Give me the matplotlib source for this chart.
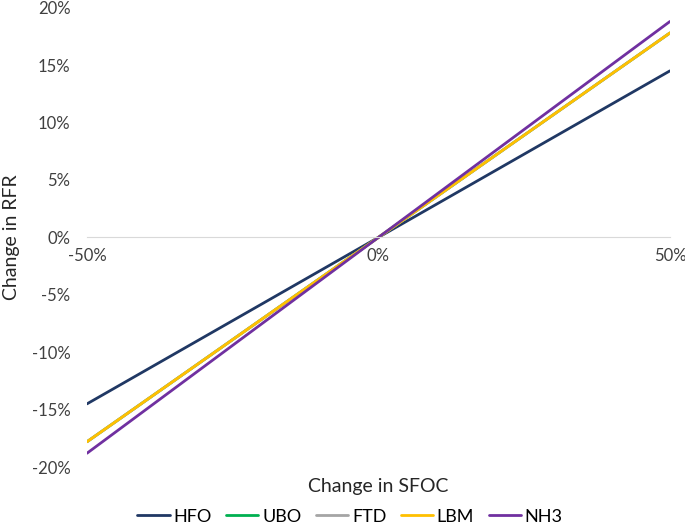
import matplotlib.pyplot as plt
from matplotlib.ticker import FuncFormatter

# change in SFOC (%) and resulting change in RFR (%)
sfoc = [-50, 0, 50]
fuels = ["HFO", "UBO", "FTD", "LBM", "NH3"]
hfo = [-14.5, 0, 14.5]
ubo = [-17.8, 0, 17.8]
ftd = [-17.8, 0, 17.8]
lbm = [-17.8, 0, 17.8]
nh3 = [-18.8, 0, 18.8]
colors = ["#203864", "#00B050", "#A5A5A5", "#FFC000", "#7030A0"]

plt.rcParams['font.family'] = ['Lato', 'DejaVu Sans']

fig = plt.figure(figsize=(6.85, 5.31), dpi=100)
ax = fig.add_axes([0.127, 0.1205, 0.851, 0.865])

for name, vals, c in zip(fuels, [hfo, ubo, ftd, lbm, nh3], colors):
    ax.plot(sfoc, vals, color=c, lw=2, label=name, solid_capstyle='round')

ax.set_xlim(-50, 50)
ax.set_ylim(-20, 20)
ax.set_xticks([-50, 0, 50])
ax.set_yticks(range(-20, 21, 5))
pct = FuncFormatter(lambda v, p: f"{v:.0f}%")
ax.xaxis.set_major_formatter(pct)
ax.yaxis.set_major_formatter(pct)

for s in ['top', 'right', 'left']:
    ax.spines[s].set_visible(False)
ax.spines['bottom'].set_position(('data', 0))
ax.spines['bottom'].set_color('#D9D9D9')
ax.tick_params(length=0, labelsize=12, colors='#404040')
ax.tick_params(axis='x', pad=8)
ax.tick_params(axis='y', pad=12)

ax.set_ylabel("Change in RFR", fontsize=14, color='#262626', labelpad=8)
fig.text(0.552, 0.083, "Change in SFOC", ha='center', va='center', fontsize=14, color='#262626')

ax.legend(loc='center', bbox_to_anchor=(0.451, -0.108), ncol=5, frameon=False,
          fontsize=13, handlelength=1.8, handletextpad=0.2, columnspacing=0.8)

fig.savefig("out.png", dpi=100)
